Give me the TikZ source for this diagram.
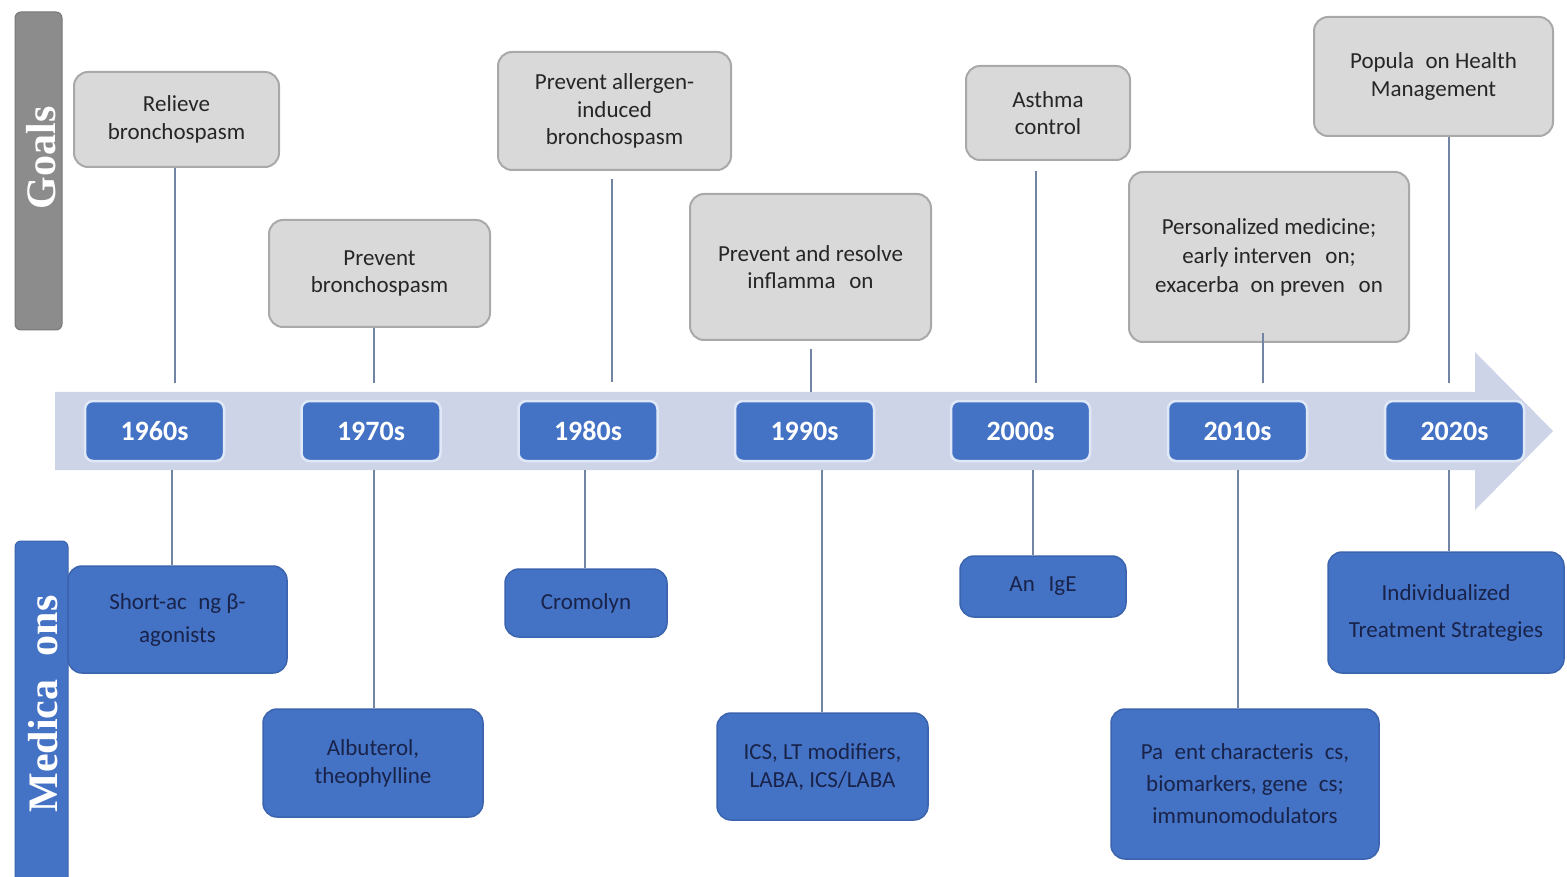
\documentclass[tikz,border=0pt]{standalone}
\usepackage{fontspec}
\setmainfont{Carlito}
\newfontfamily\labelfont{Liberation Serif}
\definecolor{goalfill}{HTML}{D9D9D9}
\definecolor{goaldraw}{HTML}{A9A9A9}
\definecolor{medblue}{HTML}{4472C4}
\definecolor{meddraw}{HTML}{3B64AE}
\definecolor{medtext}{HTML}{19234A}
\definecolor{bandcol}{HTML}{CDD4E8}
\definecolor{linecol}{HTML}{7286A4}
\definecolor{yearborder}{HTML}{DEE8F7}
\definecolor{goalbar}{HTML}{8C8C8C}
\definecolor{goaltext}{HTML}{262626}
\begin{document}
\begin{tikzpicture}[x=1pt,y=-1pt,
 goalbox/.style={draw=goaldraw, fill=goalfill, line width=2pt, rounded corners=14pt, align=center, text=goaltext, font=\fontsize{23}{27.5}\selectfont, inner sep=0pt},
 medbox/.style={draw=meddraw, fill=medblue, line width=1.5pt, rounded corners=14pt, align=center, text=medtext, font=\fontsize{23}{28}\selectfont, inner sep=0pt},
 yearbox/.style={draw=yearborder, fill=medblue, line width=2.5pt, rounded corners=8pt, minimum width=139pt, minimum height=60pt, text=white, font=\bfseries\fontsize{28}{30}\selectfont, inner sep=0pt},
 sidebar/.style={rounded corners=6pt, inner sep=0pt},
 sidetext/.style={rotate=90, text=white, font=\labelfont\bfseries\fontsize{42}{42}\selectfont},
 conn/.style={draw=linecol, line width=2.3pt},
]
\useasboundingbox (0,0) rectangle (1567,877);

% timeline band with arrow head
\fill[bandcol] (55,392) -- (1475,392) -- (1475,352) -- (1553,431) -- (1475,510) -- (1475,470) -- (55,470) -- cycle;

% side bars
\node (goalsbar) [sidebar, fill=goalbar, draw=goalbar!85!black, line width=1pt, minimum width=47pt, minimum height=318pt] at (38.5,171) {};
\node (goalslabel) [sidetext] at (41,158) {Goals};
\begin{scope}
\clip (0,0) rectangle (1567,877);
\node (medsbar) [sidebar, fill=medblue, draw=meddraw, line width=1pt, minimum width=53pt, minimum height=360pt] at (41.5,721) {};
\end{scope}
\node (medslabel) [sidetext] at (43,704) {Medica\hspace{0.55em}ons};

% year boxes
\node (y1) [yearbox] at (154.5,431) {1960s};
\node (y2) [yearbox] at (371,431) {1970s};
\node (y3) [yearbox] at (588,431) {1980s};
\node (y4) [yearbox] at (804.5,431) {1990s};
\node (y5) [yearbox] at (1020.5,431) {2000s};
\node (y6) [yearbox] at (1237.5,431) {2010s};
\node (y7) [yearbox] at (1454.5,431) {2020s};

% goal boxes
\node (g1) [goalbox, minimum width=205pt, minimum height=95pt] at (176.5,119.5) {Relieve\\bronchospasm};
\node (g2) [goalbox, minimum width=221pt, minimum height=107pt] at (379.5,273.5) {Prevent\\bronchospasm};
\node (g3) [goalbox, minimum width=233pt, minimum height=118pt] at (614.5,111) {Prevent allergen-\\induced\\bronchospasm};
\node (g4) [goalbox, minimum width=241pt, minimum height=146pt] at (810.5,267) {Prevent and resolve\\inflamma\hspace{0.6em}on};
\node (g5) [goalbox, minimum width=164pt, minimum height=94pt] at (1048,113) {Asthma\\control};
\node (g6) [goalbox, minimum width=280pt, minimum height=170pt, font=\fontsize{23}{29}\selectfont] at (1269,257) {Personalized medicine;\\early interven\hspace{0.6em}on;\\exacerba\hspace{0.5em}on preven\hspace{0.6em}on};
\node (g7) [goalbox, minimum width=239pt, minimum height=119pt] at (1433.5,76.5) {Popula\hspace{0.5em}on Health\\Management};

% medication boxes
\node (m1) [medbox, minimum width=219pt, minimum height=107pt, font=\fontsize{23}{33}\selectfont] at (177.5,619.5) {Short-ac\hspace{0.5em}ng β-\\agonists};
\node (m2) [medbox, minimum width=220pt, minimum height=108pt] at (373,763) {Albuterol,\\theophylline};
\node (m3) [medbox, minimum width=162pt, minimum height=68pt] at (586,603) {Cromolyn};
\node (m4) [medbox, minimum width=211pt, minimum height=107pt] at (822.5,766.5) {ICS, LT modifiers,\\LABA, ICS/LABA};
\node (m5) [medbox, minimum width=166pt, minimum height=61pt] at (1043,586.5) {An\hspace{0.6em}IgE};
\node (m6) [medbox, minimum width=268pt, minimum height=150pt, font=\fontsize{23}{32}\selectfont] at (1245,784) {Pa\hspace{0.5em}ent characteris\hspace{0.5em}cs,\\biomarkers, gene\hspace{0.5em}cs;\\immunomodulators};
\node (m7) [medbox, minimum width=236pt, minimum height=121pt, font=\fontsize{23}{37}\selectfont] at (1446,612.5) {Individualized\\Treatment Strategies};

% connector end points on the band
\coordinate (t1) at (175,383);
\coordinate (t2) at (374,383);
\coordinate (t3) at (612,382);
\coordinate (t4) at (811,392);
\coordinate (t5) at (1036,383);
\coordinate (t6) at (1263,383);
\coordinate (t7) at (1449,383);
\coordinate (b1) at (172,470);
\coordinate (b2) at (374,470);
\coordinate (b3) at (585,470);
\coordinate (b4) at (822,470);
\coordinate (b5) at (1033,470);
\coordinate (b6) at (1238,470);
\coordinate (b7) at (1449,470);

% goal connectors (yshift is in page direction: negative = downwards)
\draw[conn] (g1.south -| t1) -- (t1);
\draw[conn] (g2.south -| t2) -- (t2);
\draw[conn] ([yshift=-8pt]g3.south -| t3) -- (t3);
\draw[conn] ([yshift=-8pt]g4.south -| t4) -- (t4);
\draw[conn] ([yshift=-10pt]g5.south -| t5) -- (t5);
\draw[conn] ([yshift=10pt]g6.south -| t6) -- (t6);
\draw[conn] (g7.south -| t7) -- (t7);

% medication connectors
\draw[conn] (b1) -- (m1.north -| b1);
\draw[conn] (b2) -- (m2.north -| b2);
\draw[conn] (b3) -- (m3.north -| b3);
\draw[conn] (b4) -- (m4.north -| b4);
\draw[conn] (b5) -- (m5.north -| b5);
\draw[conn] (b6) -- (m6.north -| b6);
\draw[conn] (b7) -- (m7.north -| b7);
\end{tikzpicture}
\end{document}
